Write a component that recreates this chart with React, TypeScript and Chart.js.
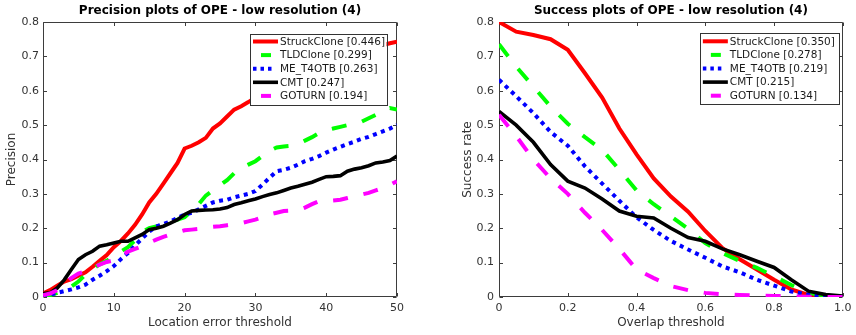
import React, { useEffect, useRef } from 'react';
import { Chart, registerables } from 'chart.js';

Chart.register(...registerables);

const FONT = "'DejaVu Sans', sans-serif";

const methods = ['StruckClone', 'TLDClone', 'ME_T4OTB', 'CMT', 'GOTURN'];
const precisionScores = ['0.446', '0.299', '0.263', '0.247', '0.194'];
const successScores = ['0.350', '0.278', '0.219', '0.215', '0.134'];

const errorThresholds = [
  0, 1, 2, 3, 4, 5, 6, 7, 8, 9,
  10, 11, 12, 13, 14, 15, 16, 17, 18, 19,
  20, 21, 22, 23, 24, 25, 26, 27, 28, 29,
  30, 31, 32, 33, 34, 35, 36, 37, 38, 39,
  40, 41, 42, 43, 44, 45, 46, 47, 48, 49,
  50,
];
const overlapThresholds = [
  0, 0.05, 0.1, 0.15, 0.2, 0.25, 0.3, 0.35, 0.4, 0.45,
  0.5, 0.55, 0.6, 0.65, 0.7, 0.75, 0.8, 0.85, 0.9, 0.95, 1,
];

const precStruck = [
  0.01, 0.02, 0.033, 0.045, 0.052, 0.062, 0.072, 0.088, 0.105, 0.122,
  0.145, 0.163, 0.185, 0.21, 0.24, 0.275, 0.3, 0.33, 0.36, 0.39,
  0.432, 0.44, 0.45, 0.463, 0.49, 0.505, 0.525, 0.545, 0.555, 0.567,
  0.58, 0.59, 0.6, 0.61, 0.62, 0.63, 0.64, 0.65, 0.66, 0.67,
  0.68, 0.69, 0.695, 0.7, 0.705, 0.712, 0.72, 0.726, 0.733, 0.738,
  0.743,
];
const precTLD = [
  0, 0.005, 0.012, 0.02, 0.03, 0.045, 0.065, 0.082, 0.095, 0.105,
  0.12, 0.132, 0.145, 0.165, 0.19, 0.2, 0.205, 0.21, 0.218, 0.225,
  0.232, 0.25, 0.27, 0.295, 0.31, 0.325, 0.34, 0.36, 0.375, 0.385,
  0.395, 0.41, 0.425, 0.435, 0.438, 0.44, 0.445, 0.455, 0.465, 0.477,
  0.485, 0.49, 0.495, 0.5, 0.505, 0.51, 0.52, 0.53, 0.545, 0.55,
  0.545,
];
const precME = [
  0.005, 0.007, 0.012, 0.017, 0.022, 0.028, 0.036, 0.05, 0.062, 0.075,
  0.09, 0.11, 0.128, 0.15, 0.17, 0.19, 0.205, 0.212, 0.22, 0.23,
  0.24, 0.245, 0.255, 0.265, 0.275, 0.28, 0.283, 0.29, 0.295, 0.3,
  0.308, 0.327, 0.347, 0.366, 0.37, 0.376, 0.385, 0.395, 0.402, 0.41,
  0.42, 0.429, 0.437, 0.445, 0.452, 0.46, 0.466, 0.474, 0.482, 0.49,
  0.5,
];
const precCMT = [
  0.01, 0.012, 0.026, 0.05, 0.08, 0.109, 0.123, 0.133, 0.148, 0.152,
  0.157, 0.162, 0.162, 0.172, 0.182, 0.196, 0.2, 0.206, 0.215, 0.225,
  0.24, 0.25, 0.252, 0.253, 0.254, 0.256, 0.26, 0.269, 0.274, 0.28,
  0.285, 0.292, 0.298, 0.303, 0.31, 0.317, 0.322, 0.328, 0.334, 0.342,
  0.35, 0.351, 0.353, 0.366, 0.372, 0.376, 0.382, 0.39, 0.393, 0.397,
  0.41,
];
const precGOTURN = [
  0.005, 0.01, 0.02, 0.036, 0.055, 0.068, 0.075, 0.085, 0.094, 0.102,
  0.107, 0.12, 0.132, 0.14, 0.148, 0.158, 0.167, 0.175, 0.182, 0.188,
  0.194, 0.196, 0.198, 0.201, 0.204, 0.206, 0.209, 0.212, 0.215, 0.22,
  0.225, 0.232, 0.24, 0.245, 0.25, 0.251, 0.252, 0.26, 0.27, 0.279,
  0.279, 0.281, 0.283, 0.288, 0.293, 0.298, 0.303, 0.31, 0.317, 0.326,
  0.337,
];

const succStruck = [0.8, 0.772, 0.762, 0.75, 0.719, 0.651, 0.58, 0.49, 0.415, 0.345, 0.292, 0.248, 0.192, 0.142, 0.11, 0.08, 0.05, 0.022, 0.006, 0.002, 0];
const succTLD = [0.735, 0.67, 0.612, 0.554, 0.504, 0.465, 0.428, 0.37, 0.31, 0.27, 0.235, 0.198, 0.157, 0.128, 0.105, 0.085, 0.06, 0.035, 0.012, 0.004, 0];
const succME = [0.632, 0.584, 0.535, 0.48, 0.44, 0.38, 0.33, 0.28, 0.232, 0.195, 0.163, 0.138, 0.114, 0.089, 0.072, 0.05, 0.033, 0.016, 0.007, 0.002, 0];
const succCMT = [0.54, 0.5, 0.45, 0.385, 0.337, 0.317, 0.285, 0.25, 0.235, 0.23, 0.2, 0.173, 0.162, 0.14, 0.123, 0.104, 0.086, 0.05, 0.017, 0.007, 0.003];
const succGOTURN = [0.53, 0.468, 0.4, 0.345, 0.3, 0.245, 0.195, 0.14, 0.08, 0.055, 0.032, 0.02, 0.012, 0.008, 0.006, 0.004, 0.003, 0.002, 0.001, 0, 0];

const lineColors = ['#ff0000', '#00ff00', '#0000ff', '#000000', '#ff00ff'];
const lineDashes: number[][] = [[], [15, 16], [4, 4.5], [], [15, 16]];
const lineWidths = [4, 4, 4, 3.6, 4];

const AXIS_COLOR = '#3d3d3d';
const TEXT_COLOR = '#333333';

const boxTicksPlugin = {
  id: 'boxTicks',
  beforeDatasetsDraw(chart: any) {
    const { ctx, chartArea: a, scales } = chart;
    const L = Math.round(a.left) + 0.5;
    const R = Math.round(a.right) - 0.5;
    const T = Math.round(a.top) + 0.5;
    const B = Math.round(a.bottom) - 0.5;
    const tl = 3.5;
    ctx.save();
    ctx.strokeStyle = AXIS_COLOR;
    ctx.lineWidth = 1;
    ctx.beginPath();
    ctx.rect(L, T, R - L, B - T);
    scales.x.ticks.forEach((t: any) => {
      const px = Math.round(scales.x.getPixelForValue(t.value)) + 0.5;
      ctx.moveTo(px, B);
      ctx.lineTo(px, B - tl);
      ctx.moveTo(px, T);
      ctx.lineTo(px, T + tl);
    });
    scales.y.ticks.forEach((t: any) => {
      const py = Math.round(scales.y.getPixelForValue(t.value)) + 0.5;
      ctx.moveTo(L, py);
      ctx.lineTo(L + tl, py);
      ctx.moveTo(R, py);
      ctx.lineTo(R - tl, py);
    });
    ctx.stroke();
    ctx.restore();
  },
};

const boxLegendPlugin = {
  id: 'boxLegend',
  afterDraw(chart: any, _args: any, opts: any) {
    const { ctx, chartArea: a } = chart;
    const bx = a.right - opts.offsetRight - opts.width;
    const by = a.top + opts.offsetTop;
    ctx.save();
    ctx.fillStyle = '#ffffff';
    ctx.fillRect(bx, by, opts.width, opts.height);
    ctx.strokeStyle = '#333333';
    ctx.lineWidth = 1;
    ctx.strokeRect(Math.round(bx) + 0.5, Math.round(by) + 0.5, Math.round(opts.width), Math.round(opts.height));
    ctx.font = `10.5px ${FONT}`;
    ctx.textBaseline = 'middle';
    ctx.textAlign = 'left';
    chart.data.datasets.forEach((ds: any, i: number) => {
      const cy = by + 8 + i * 13.6;
      ctx.strokeStyle = ds.borderColor;
      ctx.lineWidth = ds.borderWidth;
      ctx.lineCap = 'butt';
      ctx.beginPath();
      if (i === 1 || i === 4) {
        ctx.setLineDash([]);
        ctx.moveTo(bx + 11, cy);
        ctx.lineTo(bx + 21, cy);
      } else if (i === 2) {
        ctx.setLineDash([3.5, 4]);
        ctx.moveTo(bx + 3, cy);
        ctx.lineTo(bx + 22, cy);
      } else {
        ctx.setLineDash([]);
        ctx.moveTo(bx + 3, cy);
        ctx.lineTo(bx + 28, cy);
      }
      ctx.stroke();
      ctx.setLineDash([]);
      ctx.fillStyle = '#1a1a1a';
      ctx.fillText(ds.label, bx + 30, cy + 0.5);
    });
    ctx.restore();
  },
};

function makeConfig(p: any): any {
  const datasets = p.series.map((vals: number[], i: number) => ({
    label: `${methods[i]} [${p.scores[i]}]`,
    data: vals.map((v, j) => ({ x: p.xs[j], y: v })),
    borderColor: lineColors[i],
    backgroundColor: lineColors[i],
    borderWidth: lineWidths[i],
    borderDash: lineDashes[i],
    borderCapStyle: 'butt',
    pointRadius: 0,
    tension: 0,
    fill: false,
    order: 4 - i,
  }));
  return {
    type: 'line',
    data: { datasets },
    plugins: [boxTicksPlugin, boxLegendPlugin],
    options: {
      responsive: false,
      animation: false,
      devicePixelRatio: 1,
      layout: { padding: { left: p.padLeft, right: p.padRight, top: 0, bottom: 4.8 } },
      plugins: {
        legend: { display: false },
        tooltip: { enabled: false },
        title: {
          display: true,
          text: p.title,
          fullSize: false,
          color: '#000000',
          font: { family: FONT, size: 12, weight: 'bold' },
          padding: { top: 4, bottom: 3.6 },
        },
        boxLegend: p.legend,
      },
      scales: {
        x: {
          type: 'linear',
          min: 0,
          max: p.xMax,
          grid: { display: false, drawTicks: false },
          border: { display: false },
          ticks: {
            stepSize: p.xStep,
            color: TEXT_COLOR,
            font: { family: FONT, size: 11 },
            padding: 4.4,
            maxRotation: 0,
          },
          title: {
            display: true,
            text: p.xTitle,
            color: TEXT_COLOR,
            font: { family: FONT, size: 12 },
            padding: { top: 0, bottom: 0 },
          },
          afterFit: (s: any) => {
            s.height = 33.2;
          },
        },
        y: {
          type: 'linear',
          min: 0,
          max: 0.8,
          grid: { display: false, drawTicks: false },
          border: { display: false },
          ticks: {
            stepSize: 0.1,
            color: TEXT_COLOR,
            font: { family: FONT, size: 11 },
            padding: p.yTickPad,
          },
          title: {
            display: true,
            text: p.yTitle,
            color: TEXT_COLOR,
            font: { family: FONT, size: 12 },
            padding: { top: 0, bottom: 0 },
          },
          afterFit: (s: any) => {
            s.width = p.yWidth;
          },
        },
      },
    },
  };
}

export default function App() {
  const leftRef = useRef<HTMLCanvasElement>(null);
  const rightRef = useRef<HTMLCanvasElement>(null);

  useEffect(() => {
    const c1 = new Chart(
      leftRef.current as HTMLCanvasElement,
      makeConfig({
        title: 'Precision plots of OPE - low resolution (4)',
        xTitle: 'Location error threshold',
        yTitle: 'Precision',
        xs: errorThresholds,
        series: [precStruck, precTLD, precME, precCMT, precGOTURN],
        scores: precisionScores,
        xMax: 50,
        xStep: 10,
        padLeft: 5.1,
        padRight: 33,
        yWidth: 37.9,
        yTickPad: 4,
        legend: { offsetRight: 10.5, offsetTop: 11.5, width: 136.5, height: 70.5 },
      })
    );
    const c2 = new Chart(
      rightRef.current as HTMLCanvasElement,
      makeConfig({
        title: 'Success plots of OPE - low resolution (4)',
        xTitle: 'Overlap threshold',
        yTitle: 'Success rate',
        xs: overlapThresholds,
        series: [succStruck, succTLD, succME, succCMT, succGOTURN],
        scores: successScores,
        xMax: 1,
        xStep: 0.2,
        padLeft: 30.8,
        padRight: 8,
        yWidth: 38.2,
        yTickPad: 5,
        legend: { offsetRight: 4, offsetTop: 11.3, width: 139, height: 70.7 },
      })
    );
    return () => {
      c1.destroy();
      c2.destroy();
    };
  }, []);

  return (
    <div style={{ position: 'fixed', left: 0, top: 0, width: 856, height: 335, background: '#ffffff' }}>
      <canvas ref={leftRef} width={430} height={335} style={{ position: 'absolute', left: 0, top: 0 }} />
      <canvas ref={rightRef} width={426} height={335} style={{ position: 'absolute', left: 430, top: 0 }} />
    </div>
  );
}
